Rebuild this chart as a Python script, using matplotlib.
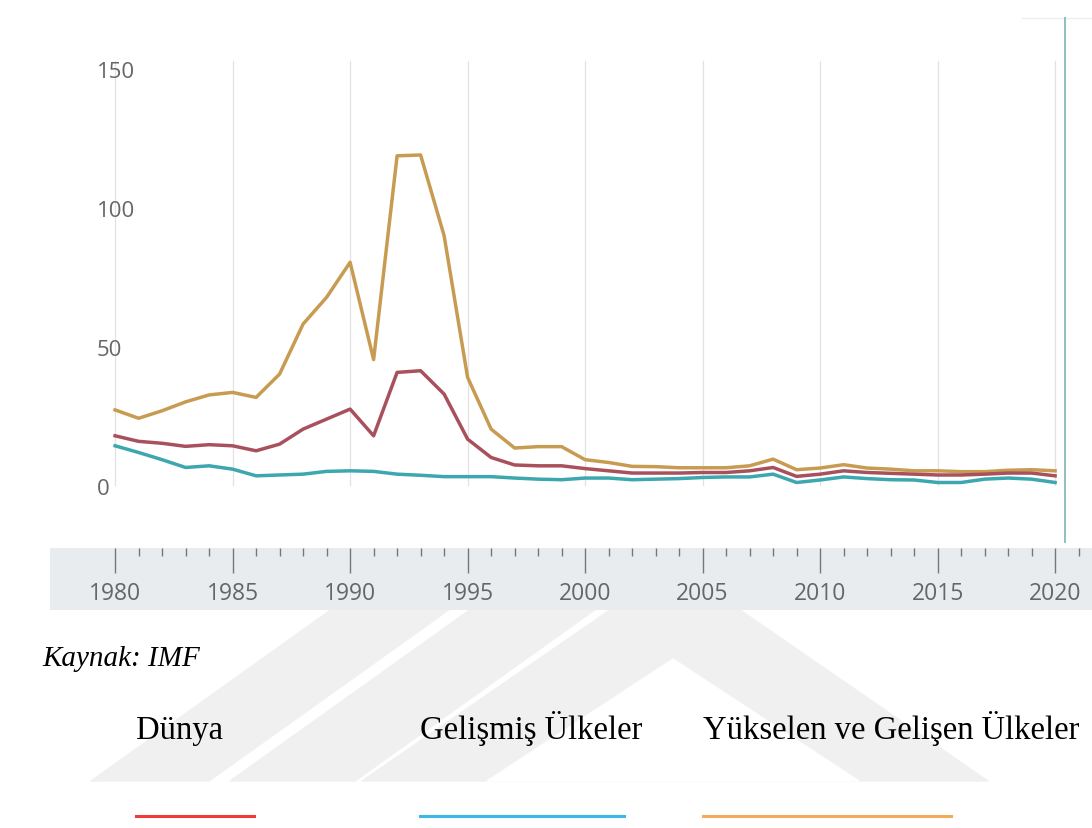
import numpy as np
import matplotlib.pyplot as plt
from matplotlib.patches import Polygon

years = list(range(1980, 2021))

# Yükselen ve Gelişen Ülkeler (gold line)
emerging = [28.1, 25.1, 27.8, 31.0, 33.5, 34.4, 32.6, 41.0, 59.0, 68.6,
            81.2, 46.2, 119.5, 119.8, 90.8, 39.8, 21.2, 14.4, 14.9, 14.9,
            10.2, 9.2, 7.8, 7.7, 7.3, 7.3, 7.3, 8.0, 10.4, 6.6,
            7.2, 8.4, 7.2, 6.8, 6.2, 6.2, 5.9, 5.9, 6.4, 6.6, 6.2]
# Dünya (maroon line)
world = [18.8, 16.8, 16.1, 15.0, 15.6, 15.2, 13.4, 15.8, 21.2, 24.8,
         28.4, 18.8, 41.6, 42.2, 33.8, 17.6, 11.0, 8.3, 8.0, 8.0,
         7.0, 6.2, 5.4, 5.4, 5.4, 5.6, 5.6, 6.2, 7.4, 4.2,
         5.0, 6.2, 5.6, 5.3, 5.0, 4.7, 4.7, 5.0, 5.4, 5.4, 4.4]
# Gelişmiş Ülkeler (teal line)
advanced = [15.2, 12.8, 10.2, 7.4, 8.0, 6.8, 4.4, 4.7, 5.0, 6.0,
            6.2, 6.0, 5.0, 4.6, 4.1, 4.1, 4.1, 3.6, 3.2, 3.0,
            3.6, 3.6, 3.0, 3.2, 3.4, 3.8, 4.0, 4.0, 5.0, 2.0,
            2.9, 4.0, 3.4, 3.0, 2.9, 2.0, 2.0, 3.2, 3.6, 3.2, 2.0]

y_ticks = [0, 50, 100, 150]
x_major = list(range(1980, 2021, 5))
x_minor = list(range(1980, 2022))
legend_names = ["Dünya", "Gelişmiş Ülkeler", "Yükselen ve Gelişen Ülkeler"]
legend_colors = ["#EE3B3B", "#3DB6E8", "#F5AB5C"]

W, H = 1092, 829
fig = plt.figure(figsize=(W / 100, H / 100), dpi=100)


def box(l, t, r, b):
    return [l / W, 1 - b / H, (r - l) / W, (b - t) / H]


def fx(px):
    return px / W


def fy(py):
    return 1 - py / H


# faint page watermark under the caption area (pixel coords)
wm = fig.add_axes(box(0, 611, W, H), zorder=-1)
wm.set_xlim(0, W)
wm.set_ylim(H, 611)
wm.axis("off")
wm_gray = "#F0F0F0"
wm.add_patch(Polygon([(91, 782), (209, 782), (450, 610), (332, 610)], color=wm_gray))
wm.add_patch(Polygon([(230, 782), (355, 782), (596, 610), (471, 610)], color=wm_gray))
wm.add_patch(Polygon([(362, 782), (675, 566), (988, 782)], color=wm_gray))
wm.add_patch(Polygon([(487, 782), (673, 660), (859, 782)], color="white"))

xlim = (1977.23, 2021.57)

# main chart
ax = fig.add_axes(box(50, 0, 1092, 548))
ax.set_xlim(*xlim)
ax.set_ylim(-21.2, 175.9)
ax.axis("off")

for yr in x_major:
    ax.plot([yr, yr], [1.0, 153.5], color="#E2E2E2", lw=0.9, zorder=1)

ax.plot(years, emerging, color="#C79C52", lw=2.5, zorder=3, solid_joinstyle="round")
ax.plot(years, world, color="#A9505D", lw=2.5, zorder=4, solid_joinstyle="round")
ax.plot(years, advanced, color="#3DA7B0", lw=2.5, zorder=5, solid_joinstyle="round")

for v in y_ticks:
    ax.text(0.045, v, str(v), transform=ax.get_yaxis_transform(),
            ha="left", va="center", fontsize=16, color="#666666",
            family="Open Sans")

# right vertical marker line
ax.plot([2020.43, 2020.43], [-19.4, 169.0], color="#93BDBD", lw=1.4, zorder=6)
ax.plot([2018.6, 2021.6], [169.0, 169.0], color="#EEEEEE", lw=1.0, zorder=0)

# gray time band
band = fig.add_axes(box(50, 549, 1092, 611))
band.set_xlim(*xlim)
band.set_ylim(0, 1)
band.set_facecolor("#E9ECEF")
for s in band.spines.values():
    s.set_visible(False)
band.set_yticks([])
band.set_xticks(x_major)
band.set_xticks(x_minor, minor=True)
band.tick_params(axis="x", which="both", top=True, bottom=False, direction="in",
                 labelbottom=False, color="#777777", width=1.0)
band.tick_params(axis="x", which="major", length=18)
band.tick_params(axis="x", which="minor", length=6)
for yr in x_major:
    band.text(yr, 0.27, str(yr), ha="center", va="center", fontsize=16.5,
              color="#666666", family="Open Sans")

# caption and legend text below
fig.text(fx(42), fy(666), "Kaynak: IMF", fontsize=21, style="italic",
         family="Liberation Serif", va="baseline", ha="left")

leg_x = [136, 420, 703]
leg_end = [254, 624, 951]
for name, c, lx, le in zip(legend_names, legend_colors, leg_x, leg_end):
    fig.text(fx(lx), fy(739), name, fontsize=23.5, family="Liberation Serif",
             va="baseline", ha="left")
    fig.add_artist(plt.Line2D([fx(lx), fx(le)], [fy(817), fy(817)],
                              color=c, lw=2.2))

fig.savefig("out.png", dpi=100)
